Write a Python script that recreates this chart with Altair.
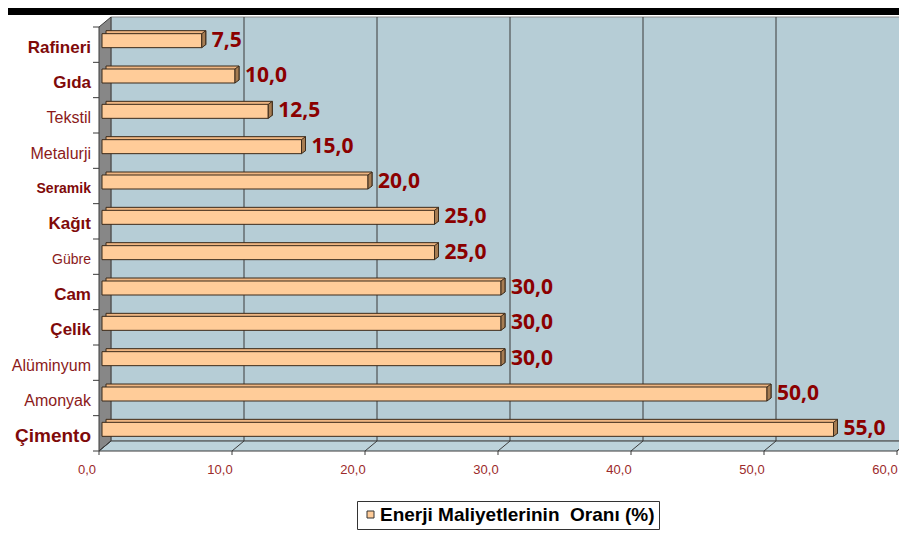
import altair as alt
import pandas as pd

# ---- data ----
categories = ["Rafineri", "Gıda", "Tekstil", "Metalurji", "Seramik", "Kağıt",
              "Gübre", "Cam", "Çelik", "Alüminyum", "Amonyak", "Çimento"]
values = [7.5, 10.0, 12.5, 15.0, 20.0, 25.0, 25.0, 30.0, 30.0, 30.0, 50.0, 55.0]
label_bold = [1, 1, 0, 0, 1, 1, 0, 1, 1, 0, 0, 1]
label_size = [17, 17, 16, 16, 14, 17, 14, 17, 17, 16, 16, 19]
x_ticks = [0, 10, 20, 30, 40, 50, 60]
series_name = "Enerji Maliyetlerinin\u00a0 Oranı (%)"

W, H = 798, 424
DX, DY = 12, 10  # 3-D depth

df = pd.DataFrame({"cat": categories, "value": values,
                   "bold": label_bold, "fs": label_size})
df["yc"] = [i + 0.5 for i in range(len(df))]
df["zero"] = 0.0
df["lab"] = [f"{v:.1f}".replace(".", ",") for v in values]
df["series"] = series_name

ticks_df = pd.DataFrame({"t": x_ticks})
bounds_df = pd.DataFrame({"b": list(range(len(categories) + 1))})
one = pd.DataFrame({"a": [0]})

xs = alt.Scale(domain=[0, 60], nice=False, zero=False)
ys = alt.Scale(domain=[0, 12], reverse=True, nice=False, zero=False)

EDGE = "#3a3a3a"
BAR_EDGE = "#3b2a1a"

top_band = alt.Chart(one).mark_rect(fill="black").encode(
    x=alt.value(-91), x2=alt.value(W + 10), y=alt.value(-19), y2=alt.value(-12))

wall = alt.Chart(one).mark_rect(fill="#b6cdd6", stroke="#8c8c8c", strokeWidth=1).encode(
    x=alt.value(DX), x2=alt.value(W + 40), y=alt.value(-DY), y2=alt.value(H - DY))

grid = alt.Chart(ticks_df).transform_filter("datum.t > 0").mark_rule(
    color=EDGE, strokeWidth=1, xOffset=DX).encode(
    x=alt.X("t:Q", scale=xs, axis=None), y=alt.value(-DY), y2=alt.value(H - DY))

side_wall = alt.Chart(one).mark_point(
    shape=f"M0,0L{DX},{-DY}L{DX},{H - DY}L0,{H}Z", size=4, filled=True,
    fill="#878787", stroke=EDGE, strokeWidth=1, opacity=1).encode(
    x=alt.value(0), y=alt.value(0))

floor = alt.Chart(one).mark_point(
    shape=f"M0,{H}L{W},{H}L{W + DX},{H - DY}L{DX},{H - DY}Z", size=4, filled=True,
    fill="#bdd3db", stroke=EDGE, strokeWidth=1, opacity=1).encode(
    x=alt.value(0), y=alt.value(0))

diag = alt.Chart(ticks_df).mark_rule(color=EDGE, strokeWidth=1, x2Offset=DX).encode(
    x=alt.X("t:Q", scale=xs, axis=None), x2="t:Q",
    y=alt.value(H), y2=alt.value(H - DY))

# axis ticks and labels drawn from the same scales
x_tick_marks = alt.Chart(ticks_df).mark_rule(color=EDGE, strokeWidth=1).encode(
    x=alt.X("t:Q", scale=xs, axis=None), y=alt.value(H), y2=alt.value(H + 4))
x_tick_labels = alt.Chart(ticks_df).transform_calculate(
    lab="replace(format(datum.t, '.1f'), '.', ',')"
).mark_text(font="Liberation Sans", fontSize=13, color="#9c2a2a",
            align="center", baseline="middle", dx=-12).encode(
    x=alt.X("t:Q", scale=xs, axis=None), y=alt.value(H + 19), text="lab:N")
y_tick_marks = alt.Chart(bounds_df).mark_rule(color=EDGE, strokeWidth=1).encode(
    y=alt.Y("b:Q", scale=ys, axis=None), x=alt.value(-6), x2=alt.value(0))

bars_back = alt.Chart(df).mark_rect(
    fill="#efb682", stroke=BAR_EDGE, strokeWidth=1,
    xOffset=7, x2Offset=7, yOffset=-14, y2Offset=0).encode(
    x=alt.X("zero:Q", scale=xs, axis=None), x2="value:Q",
    y=alt.Y("yc:Q", scale=ys, axis=None), y2="yc:Q")

legend = alt.Legend(title=None, orient="none", legendX=258, legendY=474,
                    direction="vertical", symbolType="square", symbolSize=49,
                    symbolStrokeColor="#333333", symbolStrokeWidth=1,
                    symbolOffset=0, labelFont="Liberation Sans",
                    labelFontSize=19, labelFontWeight="bold", labelColor="black",
                    labelLimit=0, labelOffset=0, padding=4,
                    strokeColor="#333333", fillColor="white")

bars_front = alt.Chart(df).mark_rect(
    stroke=BAR_EDGE, strokeWidth=1, xOffset=3, x2Offset=3,
    yOffset=-11, y2Offset=3, opacity=1).encode(
    x=alt.X("zero:Q", scale=xs, axis=None), x2="value:Q",
    y=alt.Y("yc:Q", scale=ys, axis=None), y2="yc:Q",
    color=alt.Color("series:N", scale=alt.Scale(range=["#FFCC99"]), legend=legend))

bar_side = alt.Chart(df).mark_point(
    shape="M0,0L4,-3L4,11L0,14Z", size=4, filled=True,
    fill="#a67c52", stroke=BAR_EDGE, strokeWidth=1, opacity=1,
    xOffset=3, yOffset=-11).encode(
    x=alt.X("value:Q", scale=xs, axis=None),
    y=alt.Y("yc:Q", scale=ys, axis=None))

value_labels = alt.Chart(df).mark_text(
    align="left", baseline="middle", font="Open Sans", fontSize=21,
    fontWeight="bold", color="#8B0000", dx=13, dy=-4).encode(
    x=alt.X("value:Q", scale=xs, axis=None),
    y=alt.Y("yc:Q", scale=ys, axis=None), text="lab:N")

cat_bold = alt.Chart(df).transform_filter("datum.bold == 1").mark_text(
    align="right", baseline="middle", font="Liberation Sans", fontWeight="bold",
    color="#7f0a0a", dy=3).encode(
    x=alt.value(-8), y=alt.Y("yc:Q", scale=ys, axis=None), text="cat:N",
    size=alt.Size("fs:Q", scale=None, legend=None))

cat_norm = alt.Chart(df).transform_filter("datum.bold == 0").mark_text(
    align="right", baseline="middle", font="Liberation Sans", fontWeight="normal",
    color="#8b1a1a", dy=3).encode(
    x=alt.value(-8), y=alt.Y("yc:Q", scale=ys, axis=None), text="cat:N",
    size=alt.Size("fs:Q", scale=None, legend=None))

chart = alt.layer(
    top_band, wall, grid, side_wall, floor, diag,
    x_tick_marks, x_tick_labels, y_tick_marks,
    bars_back, bars_front, bar_side, value_labels, cat_bold, cat_norm
).properties(
    width=W, height=H, background="white",
    padding={"left": 91, "top": 19, "right": 2, "bottom": 79},
    autosize=alt.AutoSizeParams(type="none"),
).configure_view(stroke=None)

chart.save("out.html", embed_options={"renderer": "svg", "actions": False})
